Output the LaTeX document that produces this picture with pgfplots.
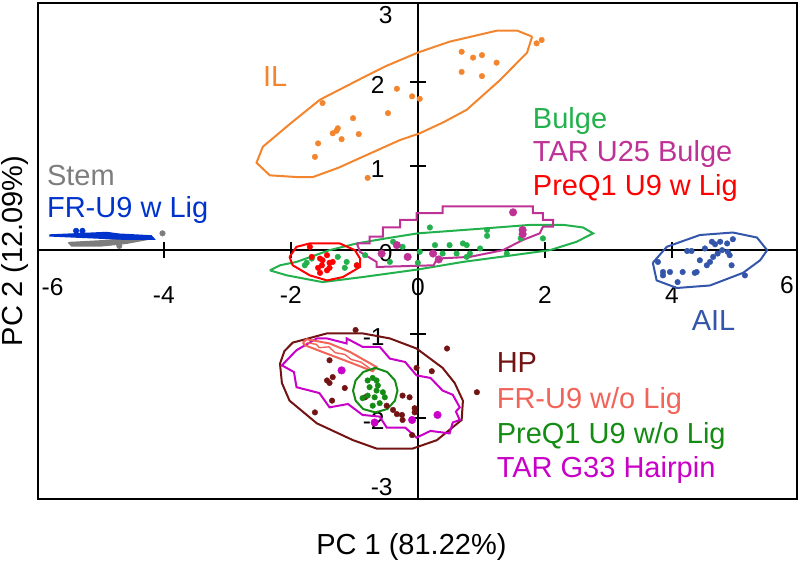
\documentclass[border=0pt]{standalone}
\usepackage{pgfplots}
\pgfplotsset{compat=1.18}
\usepackage{fontspec}
\setmainfont{Liberation Sans}
\definecolor{ilorange}{RGB}{242,133,45}
\definecolor{bulgegreen}{RGB}{34,177,76}
\definecolor{taru}{RGB}{190,50,150}
\definecolor{preqred}{RGB}{255,0,0}
\definecolor{ailblue}{RGB}{51,85,170}
\definecolor{frblue}{RGB}{0,51,204}
\definecolor{stemgrey}{RGB}{125,125,125}
\definecolor{hpred}{RGB}{115,20,20}
\definecolor{frsalmon}{RGB}{240,100,90}
\definecolor{preqgreen}{RGB}{20,140,20}
\definecolor{targ}{RGB}{200,0,200}
\newcommand\tickfont{\fontsize{24.5}{28}\selectfont}
\newcommand\bigfont{\fontsize{29}{34}\selectfont}
\begin{document}
\begin{tikzpicture}
\useasboundingbox (-38pt,-62pt) rectangle (762pt,499pt);
\begin{axis}[
  scale only axis, width=759pt, height=496pt,
  xmin=-5.98, xmax=5.97, ymin=-2.96, ymax=2.94,
  axis lines=middle,
  axis line style={line width=1.9pt,-},
  xtick={-4,-2,2,4}, ytick={-2,-1,1,2},
  tick align=center, major tick length=16pt,
  tick style={line width=1.9pt,black},
  /pgf/number format/assume math mode=true,
  xticklabel style={anchor=center, yshift=-37pt, font=\tickfont},
  yticklabel style={anchor=east, inner sep=0pt, xshift=-25pt, yshift=-3pt, font=\tickfont},
  xlabel={PC 1 (81.22\%)}, ylabel={PC 2 (12.09\%)},
  xlabel style={at={(axis description cs:0.492,-0.096)}, anchor=center, font=\bigfont},
  ylabel style={at={(axis description cs:-0.0303,0.5)}, anchor=center, rotate=90, font=\bigfont},
  clip=false,
]
\draw[line width=1.9pt] (rel axis cs:0,0) rectangle (rel axis cs:1,1);
% extra tick labels
\node[anchor=east,inner sep=0pt,font=\tickfont] at (axis cs:0,2.80) [xshift=-25pt] {3};
\node[anchor=east,inner sep=0pt,font=\tickfont] at (axis cs:0,-2.82) [xshift=-25pt] {-3};
\node[anchor=east,inner sep=0pt,font=\tickfont] at (axis cs:0,0) [xshift=-25pt,yshift=-3pt] {0};
\node[anchor=center,font=\tickfont] at (axis cs:0,0) [yshift=-37pt] {0};
\node[anchor=center,font=\tickfont] at (axis cs:-5.75,0) [yshift=-37pt] {-6};
\node[anchor=center,font=\tickfont] at (axis cs:5.81,0) [yshift=-35pt] {6};

% ---------- IL ----------
\addplot[ilorange, line width=2pt] coordinates {
(1.80,2.54) (1.57,2.61) (1.24,2.61) (0.50,2.48) (0.0,2.35) (-0.5,2.19) (-0.87,2.05) (-1.54,1.79) (-2.0,1.51) (-2.44,1.23) (-2.54,1.04) (-2.33,0.89) (-1.91,0.87) (-1.65,0.87) (-1.25,0.98) (-0.87,1.11) (-0.28,1.31) (0.03,1.39) (0.40,1.52) (0.77,1.67) (1.29,2.02) (1.55,2.22) (1.72,2.35) (1.80,2.54)};
\addplot[only marks, mark=*, mark size=2.8pt, ilorange] coordinates {
(-1.50,1.75) (-0.33,1.92) (-0.09,1.83) (0.03,1.80) (-1.02,1.57) (-0.47,1.63) (-1.26,1.45) (-1.28,1.42) (-1.34,1.39) (-0.93,1.38) (-1.20,1.32) (-1.57,1.27) (-1.62,1.11) (-0.79,0.86) (0.69,2.36) (0.87,2.29) (1.01,2.32) (1.24,2.23) (0.69,2.12) (1.01,2.07) (1.87,2.46) (1.95,2.50)};

% ---------- Bulge ----------
\addplot[bulgegreen, line width=2pt] coordinates {
(-2.33,-0.24) (-2.17,-0.18) (-1.91,-0.14) (-1.39,0.0) (-0.96,0.08) (-0.5,0.14) (0.0,0.20) (0.9,0.25) (1.76,0.30) (2.30,0.30) (2.60,0.27) (2.76,0.20) (2.50,0.10) (2.08,0.0) (1.40,-0.07) (0.71,-0.14) (0.0,-0.23) (-0.87,-0.32) (-1.50,-0.38) (-2.06,-0.30) (-2.33,-0.24)};
\addplot[only marks, mark=*, mark size=2.8pt, bulgegreen] coordinates {
(0.19,0.27) (1.09,0.24) (1.09,0.17) (1.62,0.14) (1.97,0.14) (-0.39,0.10) (-0.24,0.04) (0.27,0.06) (0.50,0.06) (0.71,0.08) (0.77,0.06) (0.82,-0.04) (0.77,-0.08) (0.98,0.02) (0.61,-0.04) (0.03,-0.02) (-0.44,-0.14) (0.0,-0.15) (1.40,-0.04) (0.39,-0.04) (-0.83,-0.06) (-1.75,-0.15) (-1.67,-0.10) (-1.26,-0.08) (-1.12,-0.14) (-1.15,-0.21) (-0.96,-0.18) (-1.78,-0.18)};

% ---------- TAR U25 Bulge ----------
\addplot[taru, line width=2pt] coordinates {
(-0.96,0.08) (-0.76,0.08) (-0.76,0.16) (-0.55,0.16) (-0.55,0.27) (-0.28,0.27) (-0.28,0.36) (-0.02,0.36) (-0.02,0.44) (0.39,0.44) (0.39,0.52) (1.81,0.52) (1.81,0.44) (1.97,0.44) (1.97,0.36) (2.13,0.36) (2.13,0.28) (1.97,0.28) (1.92,0.20) (1.65,0.12) (1.34,0.0) (0.82,-0.08) (0.30,-0.10) (0.25,-0.18) (-0.65,-0.20) (-0.65,-0.14) (-0.91,-0.02) (-0.96,0.08)};
\addplot[only marks, mark=*, mark size=3.8pt, taru] coordinates {
(1.50,0.45) (1.65,0.24) (1.65,0.19) (-0.33,0.06) (-0.57,-0.04) (-0.16,-0.08) (0.24,-0.04) (0.33,-0.11)};

% ---------- PreQ1 U9 w Lig ----------
\addplot[preqred, line width=2pt] coordinates {
(-2.02,-0.08) (-1.91,0.04) (-1.70,0.08) (-1.23,0.08) (-0.99,0.0) (-0.91,-0.10) (-0.91,-0.20) (-1.18,-0.32) (-1.43,-0.36) (-1.70,-0.30) (-1.97,-0.18) (-2.02,-0.08)};
\addplot[only marks, mark=*, mark size=2.8pt, preqred] coordinates {
(-1.67,-0.08) (-1.54,-0.10) (-1.43,-0.06) (-1.51,-0.18) (-1.50,-0.12) (-1.39,-0.15) (-1.57,-0.21) (-1.43,-0.24) (-1.39,-0.21) (-1.54,-0.27) (-1.34,-0.14) (-0.96,-0.18) (-1.70,0.04)};

% ---------- Stem / FR-U9 w Lig ----------
\addplot[stemgrey, fill=stemgrey, line width=1.4pt] coordinates {
(-5.50,0.09) (-5.0,0.11) (-4.5,0.14) (-4.2,0.17) (-4.17,0.14) (-4.6,0.08) (-5.0,0.05) (-5.45,0.05) (-5.50,0.09)};
\addplot[frblue, fill=frblue, line width=1.4pt] coordinates {
(-5.80,0.18) (-5.2,0.20) (-4.9,0.21) (-4.7,0.19) (-4.2,0.17) (-4.15,0.13) (-4.6,0.13) (-5.2,0.15) (-5.80,0.17)};
\addplot[only marks, mark=*, mark size=2.8pt, frblue] coordinates {(-5.38,0.23) (-5.28,0.23)};
\addplot[only marks, mark=*, mark size=2.8pt, stemgrey] coordinates {(-4.02,0.20) (-4.70,0.05)};

% ---------- AIL ----------
\addplot[ailblue, line width=2pt] coordinates {
(3.70,-0.15) (3.92,0.04) (4.44,0.18) (4.96,0.21) (5.34,0.15) (5.50,0.0) (5.39,-0.12) (5.12,-0.27) (4.60,-0.42) (4.08,-0.45) (3.76,-0.36) (3.70,-0.15)};
\addplot[only marks, mark=*, mark size=2.8pt, ailblue] coordinates {
(4.24,-0.01) (4.31,-0.01) (4.52,0.02) (4.63,0.10) (4.76,0.10) (4.68,0.07) (4.96,0.13) (4.79,0.0) (4.88,-0.02) (4.91,-0.06) (4.72,-0.04) (4.65,-0.08) (4.44,-0.12) (4.55,-0.18) (4.39,-0.26) (4.36,-0.27) (4.17,-0.26) (3.97,-0.26) (3.86,-0.26) (3.86,-0.30) (4.09,-0.38) (3.78,-0.14) (4.94,-0.18) (5.15,-0.30) (4.87,0.08) (4.60,-0.14)};

% ---------- HP ----------
\addplot[hpred, line width=2pt] coordinates {
(-2.17,-1.35) (-2.10,-1.20) (-1.97,-1.10) (-1.43,-0.99) (-0.87,-0.99) (-0.44,-1.05) (-0.02,-1.17) (0.39,-1.40) (0.58,-1.58) (0.71,-1.79) (0.69,-2.02) (0.30,-2.26) (-0.08,-2.36) (-0.65,-2.36) (-1.02,-2.26) (-1.59,-2.06) (-2.02,-1.79) (-2.14,-1.58) (-2.17,-1.35)};
\addplot[only marks, mark=*, mark size=2.8pt, hpred] coordinates {
(-0.98,-0.95) (0.46,-1.17) (0.93,-1.69) (-1.39,-1.31) (-1.34,-1.51) (-1.43,-1.55) (-1.39,-1.58) (-1.15,-1.64) (-0.83,-1.75) (-1.35,-1.79) (-1.62,-1.93) (-0.02,-1.40) (0.22,-1.44) (-0.24,-1.73) (-0.13,-1.75) (-0.49,-1.85) (-0.39,-1.90) (-0.33,-1.95) (-0.25,-1.96) (-0.05,-1.88) (-0.05,-1.93) (-0.24,-2.02) (-0.09,-2.20) (-0.68,-2.06)};

% ---------- TAR G33 Hairpin ----------
\addplot[targ, line width=2pt] coordinates {
(-1.43,-1.05) (-1.12,-1.11) (-1.12,-1.05) (-0.87,-1.15) (-0.60,-1.15) (-0.44,-1.29) (-0.20,-1.33) (-0.02,-1.49) (0.20,-1.52) (0.39,-1.67) (0.55,-1.72) (0.66,-1.87) (0.60,-1.92) (0.66,-2.02) (0.55,-2.05) (0.50,-2.18) (0.20,-2.15) (-0.02,-2.23) (-0.20,-2.11) (-0.49,-2.11) (-0.60,-1.98) (-0.87,-1.96) (-1.10,-1.83) (-1.39,-1.87) (-1.55,-1.70) (-1.91,-1.63) (-1.95,-1.45) (-2.14,-1.37) (-1.91,-1.19) (-1.59,-1.05) (-1.43,-1.05)};
\addplot[only marks, mark=*, mark size=3.8pt, targ] coordinates {
(-1.20,-1.43) (0.31,-1.96) (-0.09,-2.02) (-0.68,-2.05)};

% ---------- FR-U9 w/o Lig ----------
\addplot[frsalmon, line width=2pt] coordinates {
(-1.81,-1.10) (-1.75,-1.06) (-1.39,-1.11) (-1.07,-1.21) (-0.65,-1.39) (-0.71,-1.44) (-1.12,-1.32) (-1.54,-1.20) (-1.78,-1.13) (-1.81,-1.10)};
\addplot[frsalmon, line width=1.4pt] coordinates {
(-1.75,-1.10) (-1.60,-1.12) (-1.55,-1.16) (-1.40,-1.15) (-1.30,-1.22) (-1.15,-1.24) (-1.05,-1.30) (-0.90,-1.33) (-0.75,-1.41)};

% ---------- PreQ1 U9 w/o Lig ----------
\addplot[preqgreen, line width=2pt] coordinates {
(-1.02,-1.67) (-0.98,-1.55) (-0.86,-1.45) (-0.67,-1.40) (-0.48,-1.45) (-0.36,-1.55) (-0.32,-1.67) (-0.36,-1.79) (-0.48,-1.89) (-0.67,-1.93) (-0.86,-1.89) (-0.98,-1.79) (-1.02,-1.67)};
\addplot[only marks, mark=*, mark size=2.8pt, preqgreen] coordinates {
(-0.79,-1.55) (-0.71,-1.52) (-0.65,-1.55) (-0.76,-1.63) (-0.65,-1.67) (-0.79,-1.73) (-0.68,-1.75) (-0.55,-1.69) (-0.52,-1.75) (-0.60,-1.82) (-0.71,-1.85) (-0.87,-1.76) (-0.63,-1.61)};

% ---------- labels ----------
\node[anchor=base west, inner sep=0pt, font=\bigfont, text=ilorange] at (axis cs:-2.44,1.95) {IL};
\node[anchor=base west, inner sep=0pt, font=\bigfont, text=bulgegreen] at (axis cs:1.81,1.45) {Bulge};
\node[anchor=base west, inner sep=0pt, font=\bigfont, text=taru] at (axis cs:1.81,1.06) {TAR U25 Bulge};
\node[anchor=base west, inner sep=0pt, font=\bigfont, text=preqred] at (axis cs:1.81,0.655) {PreQ1 U9 w Lig};
\node[anchor=base west, inner sep=0pt, font=\bigfont, text=stemgrey] at (axis cs:-5.84,0.77) {Stem};
\node[anchor=base west, inner sep=0pt, font=\bigfont, text=frblue] at (axis cs:-5.84,0.39) {FR-U9 w Lig};
\node[anchor=base west, inner sep=0pt, font=\bigfont, text=ailblue] at (axis cs:4.31,-0.95) {AIL};
\node[anchor=base west, inner sep=0pt, font=\bigfont, text=hpred] at (axis cs:1.24,-1.46) {HP};
\node[anchor=base west, inner sep=0pt, font=\bigfont, text=frsalmon] at (axis cs:1.24,-1.88) {FR-U9 w/o Lig};
\node[anchor=base west, inner sep=0pt, font=\bigfont, text=preqgreen] at (axis cs:1.24,-2.30) {PreQ1 U9 w/o Lig};
\node[anchor=base west, inner sep=0pt, font=\bigfont, text=targ] at (axis cs:1.24,-2.71) {TAR G33 Hairpin};
\end{axis}
\end{tikzpicture}
\end{document}
